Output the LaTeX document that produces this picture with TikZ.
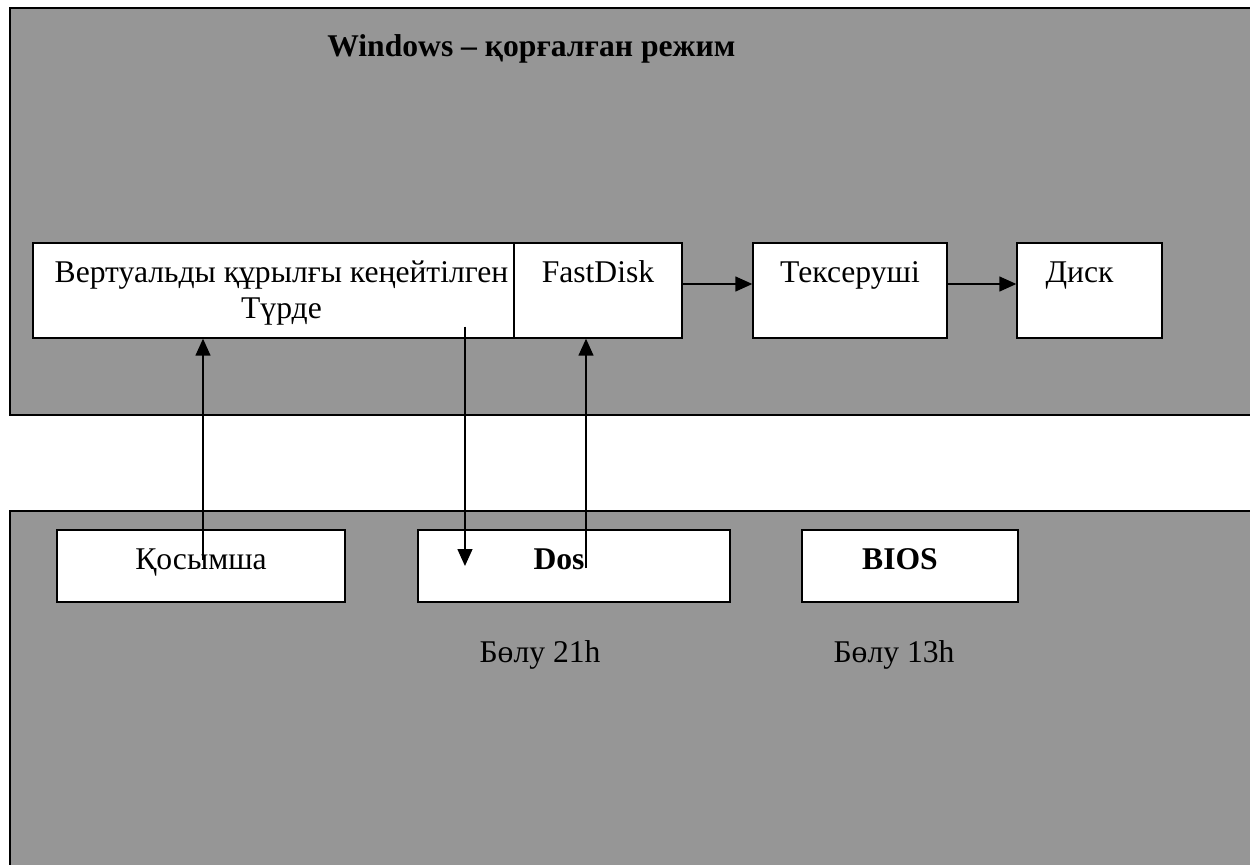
\documentclass[tikz,border=0pt]{standalone}
\usepackage{fontspec}
\setmainfont{Liberation Serif}
\usepackage{xcolor}
\usepackage{tikz}
\usetikzlibrary{arrows.meta,positioning}
\definecolor{panel}{HTML}{969696}
\definecolor{ink}{HTML}{000000}
\tikzset{
  edge/.style={draw=ink, line width=0.8pt},
  box/.style={draw=ink, fill=white, line width=0.8pt, inner sep=0pt, minimum height=1.9cm},
  lowbox/.style={box, minimum height=1.44cm},
  arr/.style={draw=ink, line width=0.8pt, -{Triangle[length=0.34cm,width=0.3cm]}},
  lab/.style={text=ink, inner sep=0pt, anchor=base, font=\fontsize{18pt}{20.4pt}\selectfont},
  labb/.style={lab, font=\fontsize{18pt}{20.4pt}\selectfont\bfseries},
}

\begin{document}
\begin{tikzpicture}[x=0.02cm,y=-0.02cm]
  \useasboundingbox (0,0) rectangle (1250,865);
  % protected mode panel and real mode panel
  \fill[panel] (10,8) rectangle (1250,415);
  \draw[edge] (1250,8) -- (10,8) -- (10,415) -- (1250,415);
  \fill[panel] (10,511) rectangle (1250,865);
  \draw[edge] (1250,511) -- (10,511) -- (10,865);
  \node[labb, anchor=base west] (title) at (327,57) {Windows – қорғалған режим};

  \node[box, minimum width=9.62cm] (vdev) at (273.5,290.5) {};
  \node[box, minimum width=3.36cm] (fast) at (598,290.5) {};
  \node[box, minimum width=3.88cm] (check) at (850,290.5) {};
  \node[box, minimum width=2.9cm]  (disk) at (1089.5,290.5) {};
  \node[lab, align=center] (vdevt) at ([xshift=0.16cm,yshift=-1.52cm]vdev.north) {Вертуальды құрылғы кеңейтілген\\Түрде};
  \node[lab] (fastt) at ([yshift=-0.8cm]fast.north) {FastDisk};
  \node[lab] (checkt) at ([yshift=-0.8cm]check.north) {Тексеруші};
  \node[lab] (diskt) at ([xshift=-0.2cm,yshift=-0.8cm]disk.north) {Диск};

  \node[lowbox, minimum width=5.76cm] (app) at (201,566) {};
  \node[lowbox, minimum width=6.24cm] (dos) at (574,566) {};
  \node[lowbox, minimum width=4.32cm] (bios) at (910,566) {};
  \node[lab] (appt) at ([yshift=-0.8cm]app.north) {Қосымша};
  \node[labb] (dost) at ([xshift=-0.3cm,yshift=-0.8cm]dos.north) {Dos};
  \node[labb] (biost) at ([xshift=-0.2cm,yshift=-0.8cm]bios.north) {BIOS};
  \node[lab] (int21) at ([xshift=-0.68cm,yshift=-1.2cm]dos.south) {Бөлу 21h};
  \node[lab] (int13) at ([xshift=-0.32cm,yshift=-1.2cm]bios.south) {Бөлу 13h};

  \draw[arr] ([yshift=0.13cm]fast.east) -- ([yshift=0.13cm]check.west);
  \draw[arr] ([yshift=0.13cm]check.east) -- ([yshift=0.13cm]disk.west);
  \coordinate (up1) at ([xshift=0.04cm,yshift=0.12cm]app.center);
  \draw[arr] (up1) -- (up1 |- vdev.south);
  \coordinate (dn1) at ([xshift=3.83cm,yshift=0.24cm]vdev.south);
  \draw[arr] (dn1) -- (dn1 |- dos.center);
  \coordinate (up2) at ([xshift=0.24cm,yshift=-0.04cm]dos.center);
  \draw[arr] (up2) -- (up2 |- fast.south);
\end{tikzpicture}
\end{document}
